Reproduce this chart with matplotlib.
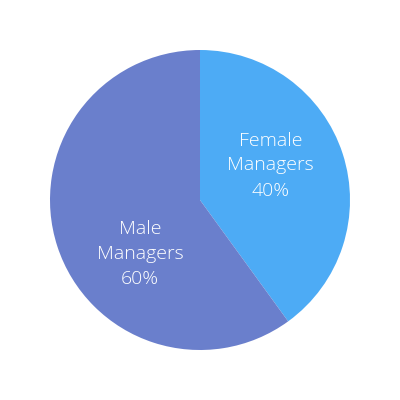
import matplotlib
matplotlib.use("Agg")
import matplotlib.pyplot as plt

labels = ["Female\nManagers", "Male\nManagers"]
shares = [40, 60]
colors = ["#4dabf5", "#6a7fcc"]

fig = plt.figure(figsize=(4, 4), dpi=100)
ax = fig.add_axes([0.125, 0.125, 0.75, 0.75])

wedges, texts = ax.pie(shares, colors=colors, startangle=90, counterclock=False,
                       wedgeprops={"linewidth": 0})
ax.set_xlim(-1, 1)
ax.set_ylim(-1, 1)
ax.set_aspect("equal")

# label positions inside each slice (fractions of radius)
label_pos = [(0.47, 0.23), (-0.40, -0.36)]
for lab, val, (x, y) in zip(labels, shares, label_pos):
    ax.text(x, y, f"{lab}\n{val}%", ha="center", va="center", color="white",
            fontsize=14, family="Open Sans", fontweight="light", linespacing=1.5)

fig.savefig("out.png", dpi=100)
